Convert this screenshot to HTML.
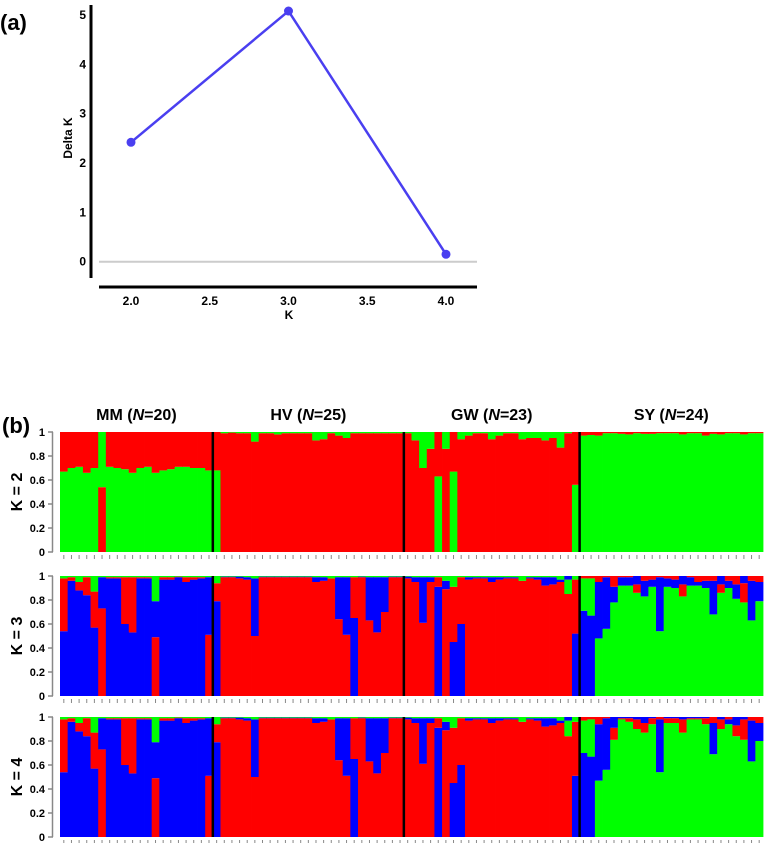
<!DOCTYPE html>
<html><head><meta charset="utf-8">
<style>
body{margin:0;background:#fff;}
svg{display:block;font-family:"Liberation Sans",sans-serif;}
</style></head>
<body>
<svg id="fig" width="767" height="843" viewBox="0 0 767 843">
<text x="0" y="30" font-size="22" font-weight="bold">(a)</text>
<g id="pa"></g>
<text x="2" y="433" font-size="22" font-weight="bold">(b)</text>
<g id="pb"></g>
</svg>
<script>
const kValues=[2,3,4];
const deltaK=[2.42,5.08,0.15];
const yTicks=[0,1,2,3,4,5];
const xTicks=[2.0,2.5,3.0,3.5,4.0];

const popNames=["MM","HV","GW","SY"];
const popSizes=[20,25,23,24];
const kLabels=["K = 2","K = 3","K = 4"];
const fracTicks=[0,0.2,0.4,0.6,0.8,1];

const k2Bars=[
"g.67 r1","g.70 r1","g.71 r1","g.66 r1","g.70 r1","r.54 g1","g.71 r1","g.70 r1","g.69 r1","g.66 r1",
"g.70 r1","g.71 r1","g.66 r1","g.68 r1","g.69 r1","g.71 r1","g.71 r1","g.70 r1","g.70 r1","g.68 r1",
"g.68 r1","r.99 g1","r.995 g1","r.99 g1","r.99 g1","r.92 g1","r.99 g1","r.99 g1","r.98 g1","r.99 g1",
"r.99 g1","r.99 g1","r.99 g1","r.93 g1","r.94 g1","r.99 g1","r.97 g1","r.95 g1","r.99 g1","r.99 g1",
"r.99 g1","r.99 g1","r.99 g1","r.99 g1","r.99 g1",
"r.99 g1","r.93 g1","r.70 g1","r.86 g1","g.63 r1","r.86 g1","g.67 r1","r.94 g1","r.97 g1","r.99 g1",
"r.99 g1","r.94 g1","r.97 g1","r.99 g1","r.99 g1","r.94 g1","r.95 g1","r.95 g1","r.93 g1","r.95 g1",
"r.87 g1","r.99 g1","g.56 r1",
"g.97 r1","g.975 r1","g.97 r1","g.99 r1","g.99 r1","g.985 r1","g.98 r1","g.99 r1","g.985 r1","g.985 r1",
"g.99 r1","g.99 r1","g.99 r1","g.98 r1","g.99 r1","g.99 r1","g.97 r1","g.985 r1","g.98 r1","g.99 r1",
"g.99 r1","g.98 r1","g.99 r1","g.99 r1"];

const k3Bars=[
"b.54 r.98 g1","b.96 r.99 g1","b.88 r.95 g1","b.84 r.99 g1","b.57 r.87 g1","r.73 b.99 g1","b.98 r.99 g1","b.98 r.99 g1","b.60 r.99 g1","b.53 r.99 g1",
"b.98 r.99 g1","b.98 r.99 g1","r.49 b.79 g1","b.97 r.99 g1","b.97 r.99 g1","b.99 r.995 g1","b.95 r.99 g1","b.97 r.99 g1","b.98 r.99 g1","r.51 b.99 g1",
"b.79 r.94 g1","r.99 b.995 g1","r.99 b.995 g1","r.98 b.995 g1","r.97 b.99 g1","r.50 b.98 g1","r.99 b.995 g1","r.99 b.995 g1","r.99 b.995 g1","r.99 b.995 g1",
"r.99 b.995 g1","r.99 b.995 g1","r.99 b.995 g1","r.95 b.99 g1","r.96 b.99 g1","r.98 g1","r.64 b.99 g1","r.51 b.99 g1","b.65 r.99 g1","r.99 b.995 g1",
"r.63 b.99 g1","r.53 b.99 g1","r.70 b.99 g1","r.99 b.995 g1","r.99 b.995 g1",
"r.98 b.995 g1","r.95 b.99 g1","r.61 b.99 g1","r.95 b.99 g1","b.91 r.99 g1","r.89 b.96 g1","b.45 r.91 g1","b.60 r.99 g1","r.97 b.99 g1","r.98 b.99 g1",
"r.98 b.99 g1","r.95 b.99 g1","r.97 b.99 g1","r.98 b.99 g1","r.98 b.99 g1","r.96 g1","r.98 b.99 g1","r.97 b.99 g1","r.92 b.99 g1","r.93 b.99 g1",
"r.95 b.97 g1","r.85 g.97 b1","b.52 r.97 g1",
"b.71 g.98 r1","b.67 g.98 r1","g.48 b.95 r1","g.56 b.99 r1","g.78 b.91 r1","g.92 b.99 r1","g.92 b.99 r1","g.86 r.93 b1","g.83 b.96 r1","g.91 b.97 r1",
"g.54 b.99 r1","g.91 b.98 r1","g.90 b.97 r1","g.83 r.93 b1","g.92 b.99 r1","g.92 b.95 r1","g.90 b.96 r1","g.68 b.96 r1","g.86 r.93 b1","g.90 b.96 r1",
"g.81 b.93 r1","g.78 r.94 b1","g.63 b.96 r1","g.79 b.95 r1"];

const k4Bars=k3Bars.slice(0,66).concat([
"r.84 g.97 b1","b.51 r.96 g1",
"b.70 g.97 r1","b.67 g.98 r1","g.47 b.94 r1","g.56 b.99 r1","g.81 r.91 b1","g.98 r.99 b1","g.96 r.99 b1","g.90 r.98 b1","g.87 r.95 b1","g.94 r.99 b1",
"g.54 b.98 r1","g.95 r.99 b1","g.95 r.99 b1","g.87 r.98 b1","g.98 r.99 b1","g.98 r.99 b1","g.94 r.99 b1","g.69 b.95 r1","g.90 r.98 b1","g.94 b.98 r1",
"g.84 r.93 b1","g.81 r.98 b1","g.63 b.97 r1","g.80 b.95 r1"]);

const NS="http://www.w3.org/2000/svg";
function mk(tag,attrs,parent){const e=document.createElementNS(NS,tag);for(const k in attrs)e.setAttribute(k,attrs[k]);parent.appendChild(e);return e;}

// Panel a
const pa=document.getElementById('pa');
const ax=v=>131+(v-2)*(446-131)/2;
const ay=v=>261.7-v*(261.7-15)/5;
let e;
e=mk('line',{x1:99,x2:477,y1:ay(0),y2:ay(0),stroke:'#cccccc','stroke-width':2},pa);


e=mk('line',{x1:91,x2:91,y1:5,y2:278,stroke:'#000','stroke-width':3},pa);


e=mk('line',{x1:99,x2:477,y1:287,y2:287,stroke:'#000','stroke-width':3},pa);


yTicks.forEach(t=>{e=mk('text',{x:86,y:ay(t)+4,'font-size':12,'font-weight':'bold','text-anchor':'end'},pa);e.textContent=t;

});
xTicks.forEach(t=>{e=mk('text',{x:ax(t),y:305,'font-size':12,'font-weight':'bold','text-anchor':'middle'},pa);e.textContent=t.toFixed(1);

});
e=mk('text',{x:289,y:319,'font-size':12,'font-weight':'bold','text-anchor':'middle'},pa);e.textContent='K';


e=mk('text',{x:0,y:0,'font-size':12,'font-weight':'bold','text-anchor':'middle',transform:'translate(72,138) rotate(-90)'},pa);e.textContent='Delta K';


e=mk('polyline',{points:kValues.map((k,i)=>ax(k)+','+ay(deltaK[i])).join(' '),fill:'none',stroke:'#4a3ff0','stroke-width':2.5},pa);


kValues.forEach((k,i)=>{e=mk('circle',{cx:ax(k),cy:ay(deltaK[i]),r:4.5,fill:'#4a3ff0'},pa);

});

// Panel b
const pb=document.getElementById('pb');
const total=popSizes.reduce((a,b)=>a+b,0);
const bx0=60,bx1=763,bw=(bx1-bx0)/total;
const panels=[{top:432,bot:552,data:k2Bars},{top:576,bot:696,data:k3Bars},{top:717,bot:837,data:k4Bars}];
const col={r:'#ff0000',g:'#00ff00',b:'#0000ff'};
let start=0;
popNames.forEach((p,i)=>{
  e=mk('text',{x:bx0+(start+popSizes[i]/2)*bw,y:420,'font-size':16,'font-weight':'bold','text-anchor':'middle'},pb);
  e.innerHTML=p+' (<tspan font-style="italic">N</tspan>='+popSizes[i]+')';
  
  
  start+=popSizes[i];
});
panels.forEach((P,pi)=>{
  const g=mk('g',{},pb);
  
  
  const fy=v=>P.bot-v*(P.bot-P.top);
  P.data.forEach((s,i)=>{
    const parts=s.split(' ');let prev=0;
    parts.forEach(pt=>{const c=pt[0];const v=parseFloat(pt.slice(1));
      e=mk('rect',{x:bx0+i*bw,y:fy(v),width:bw+0.4,height:fy(prev)-fy(v),fill:col[c]},g);
      
      
      prev=v;});
    e=mk('line',{x1:bx0+(i+0.5)*bw,x2:bx0+(i+0.5)*bw,y1:P.bot+3,y2:P.bot+7,stroke:'#888','stroke-width':1},g);
    
    
  });
  let c=0;
  popSizes.slice(0,3).forEach(n=>{c+=n;
    e=mk('line',{x1:bx0+c*bw,x2:bx0+c*bw,y1:P.top,y2:P.bot,stroke:'#000','stroke-width':2.5},g);
    
    });
  e=mk('line',{x1:52.5,x2:52.5,y1:P.top,y2:P.bot,stroke:'#888','stroke-width':1.5},g);
  
  
  fracTicks.forEach(t=>{
    e=mk('line',{x1:48,x2:53,y1:fy(t),y2:fy(t),stroke:'#888','stroke-width':1.5},g);
    
    
    e=mk('text',{x:45,y:fy(t)+4,'font-size':11,'font-weight':'bold','text-anchor':'end'},g);e.textContent=t;
    
    
  });
  e=mk('text',{x:0,y:0,'font-size':16,'font-weight':'bold','text-anchor':'middle',transform:'translate(22,'+((P.top+P.bot)/2)+') rotate(-90)'},g);
  e.textContent=kLabels[pi];
  
  
});
</script>
</body></html>
